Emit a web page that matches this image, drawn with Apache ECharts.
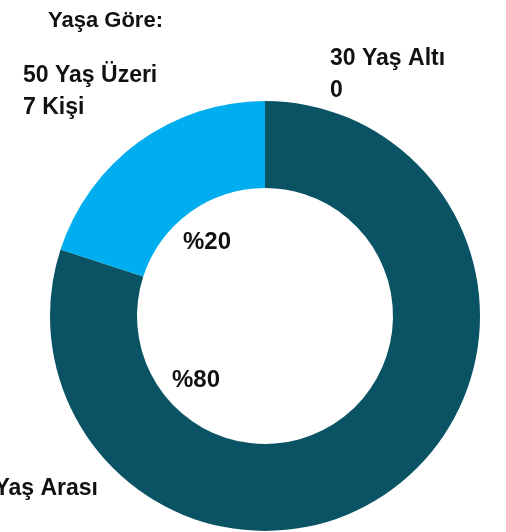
<!DOCTYPE html>
<html>
<head>
<meta charset="utf-8">
<script src="https://cdn.jsdelivr.net/npm/echarts@6/dist/echarts.min.js"></script>
<style>
  html, body { margin: 0; padding: 0; background: #fff; }
  #chart { width: 506px; height: 532px; }
</style>
</head>
<body>
<div id="chart"></div>
<script>
// veriler
var titleText = 'Yaşa Göre:';
var categories = ['30 Yaş Altı', '30 - 50 Yaş Arası', '50 Yaş Üzeri'];
var values = [0, 28, 7];
var valueLabels = ['0', '', '7 Kişi'];
var colors = ['#0a5364', '#0a5364', '#00adee'];

// etiket yerleri (label text only)
var outerLabelPos = [
  { x: 330, y: 75, align: 'left' },
  { x: 98, y: 489, align: 'right' },
  { x: 23, y: 92, align: 'left' }
];
var innerLabelPos = [
  null,
  { x: 196, y: 380 },
  { x: 207, y: 242 }
];

var FONT = '"Liberation Sans", Arial, sans-serif';

var chart = echarts.init(document.getElementById('chart'));

var seriesData = categories.map(function (name, i) {
  return { name: name, value: values[i], itemStyle: { color: colors[i] } };
});

var option = {
  animation: false,
  title: {
    text: titleText,
    left: 48,
    top: 10,
    padding: 0,
    textStyle: { fontFamily: FONT, fontSize: 22, fontWeight: 'bold', color: '#111' }
  },
  series: [
    {
      name: 'yas',
      type: 'pie',
      center: [265, 316],
      radius: [128, 215],
      startAngle: 90,
      clockwise: true,
      avoidLabelOverlap: false,
      silent: true,
      itemStyle: { borderWidth: 0 },
      label: {
        show: true,
        position: 'outside',
        fontFamily: FONT,
        fontSize: 23,
        fontWeight: 'bold',
        color: '#111',
        lineHeight: 32,
        formatter: function (p) {
          var v = valueLabels[p.dataIndex];
          return v ? p.name + '\n' + v : p.name;
        }
      },
      labelLine: { show: false },
      labelLayout: function (p) {
        var pos = outerLabelPos[p.dataIndex];
        return { x: pos.x, y: pos.y, align: pos.align, verticalAlign: 'middle', hideOverlap: false };
      },
      data: seriesData
    },
    {
      name: 'yuzde',
      type: 'pie',
      center: [265, 316],
      radius: [0, 128],
      startAngle: 90,
      silent: true,
      avoidLabelOverlap: false,
      itemStyle: { color: 'transparent' },
      label: {
        show: true,
        position: 'inside',
        fontFamily: FONT,
        fontSize: 24,
        fontWeight: 'bold',
        color: '#111',
        formatter: function (p) {
          return p.value ? '%' + Math.round(p.percent) : '';
        }
      },
      labelLine: { show: false },
      labelLayout: function (p) {
        var pos = innerLabelPos[p.dataIndex];
        if (!pos) return {};
        return { x: pos.x, y: pos.y, align: 'center', verticalAlign: 'middle' };
      },
      data: categories.map(function (name, i) { return { name: name, value: values[i] }; })
    }
  ]
};

chart.setOption(option);
</script>
</body>
</html>
